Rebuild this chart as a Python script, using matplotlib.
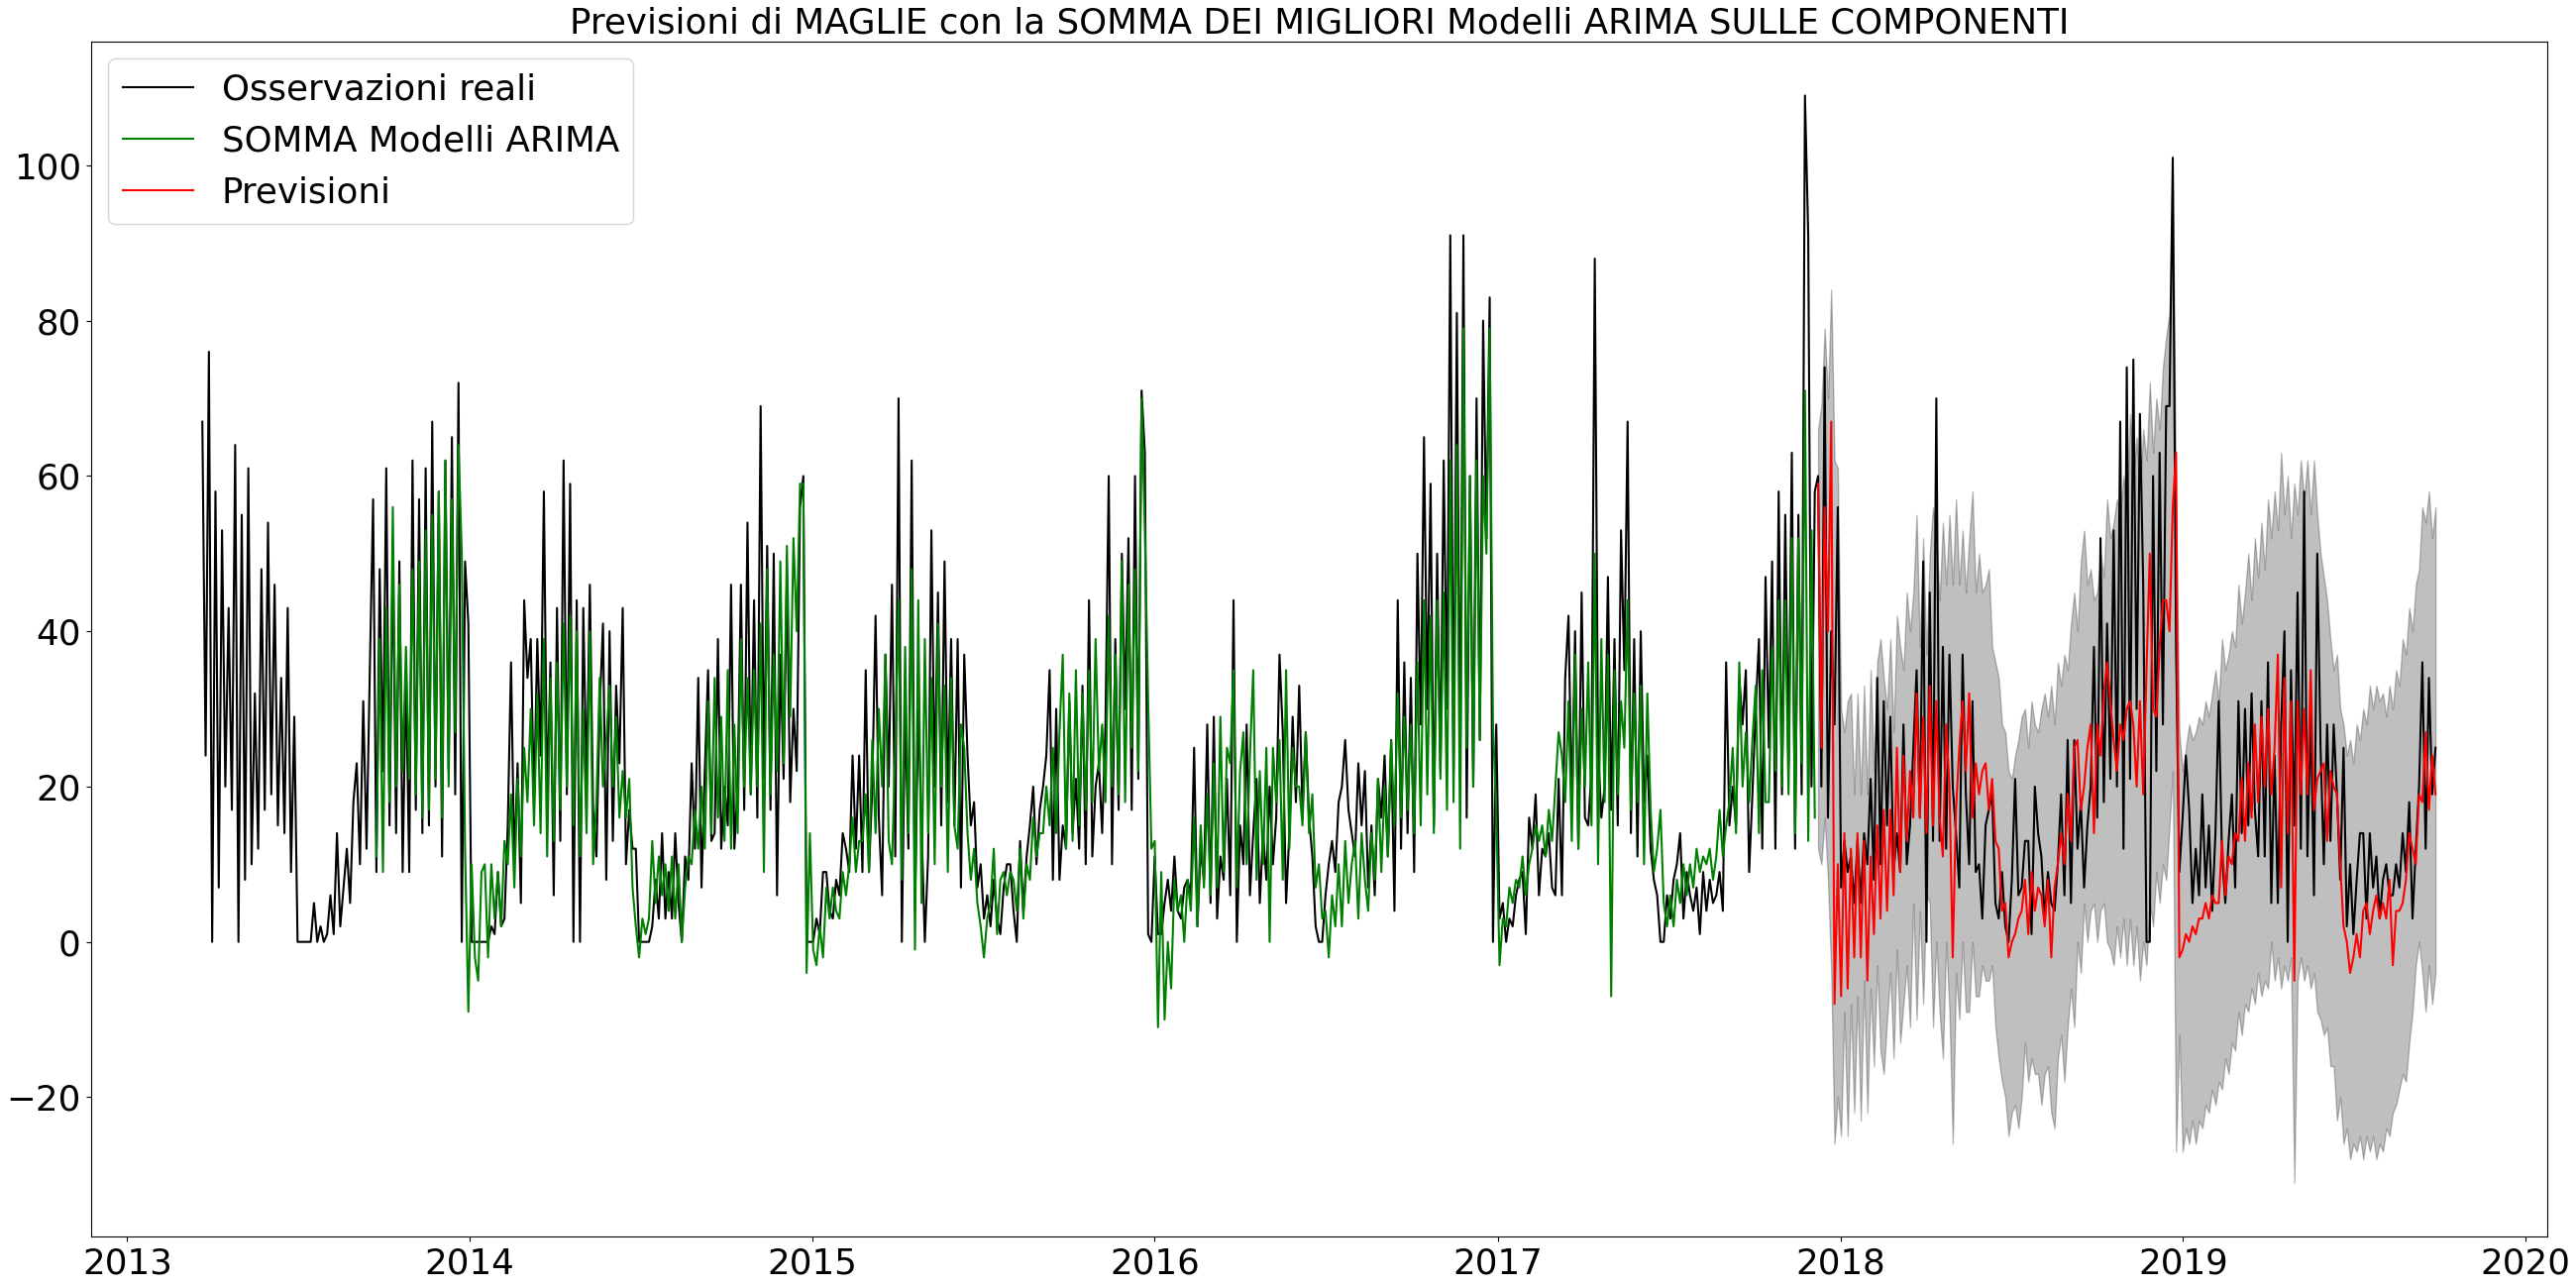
import matplotlib
matplotlib.use("Agg")
import matplotlib.pyplot as plt
import pandas as pd

# half-week samples (every 3.5 days), starting 2013-03-22
obs_p1 = [67, 24, 76, 0, 58, 7, 53, 20, 43, 17,
          64, 0, 55, 8, 61, 10, 32, 12, 48, 17,
          54, 19, 46, 15, 34, 14, 43, 9, 29, 0,
          0, 0, 0, 0, 5, 0, 2, 0, 1, 6,
          1, 14, 2, 7, 12, 5, 18, 23, 10, 31,
          12, 35, 57, 9, 48, 22, 61, 15, 50, 14,
          49, 9, 35, 9, 62, 17, 57, 14, 61, 15,
          67, 20, 58, 11, 62, 22, 65, 19, 72, 0,
          49, 41, 0, 0]
obs_p2 = [0, 0, 0, 0, 2, 1, 9, 2, 3, 15,
          36, 10, 23, 5, 44, 34, 39, 18, 39, 24,
          58, 18, 36, 6, 43, 13, 62, 19, 59, 0,
          44, 0, 43, 20, 46, 17, 11, 30, 41, 8,
          40, 13, 33, 23, 43, 10, 17, 12, 12, 0,
          0, 0, 0, 2, 8, 3, 14, 3, 9, 3,
          14, 5, 0, 11, 8, 23, 12, 34, 7, 22,
          35, 13, 14, 39, 12, 20, 15, 46, 12, 20,
          46, 17, 54]
obs_p3 = [19, 44, 16, 69, 21, 51, 17, 50, 6, 37,
          21, 47, 18, 30, 22, 56, 60, 0, 0, 0,
          3, 1, 9, 9, 4, 3, 8, 6, 14, 12,
          9, 24, 12, 24, 9, 35, 9, 20, 42, 16,
          6, 37, 20, 46, 11, 70, 0, 30, 12, 62,
          4, 30, 15, 0, 11, 53, 20, 45, 15, 49,
          18, 39, 15, 39, 7, 37, 24, 15, 18, 7,
          10, 3, 6, 2, 8, 3, 1, 7, 10, 10,
          4, 0, 13]
obs_p4 = [4, 11, 15, 20, 10, 17, 20, 24, 35, 8,
          30, 8, 15, 12, 31, 14, 21, 12, 33, 10,
          44, 11, 20, 23, 14, 28, 60, 10, 39, 17,
          50, 30, 52, 17, 60, 21, 71, 63, 1, 0,
          11, 1, 1, 5, 8, 4, 11, 4, 3, 7,
          8, 6, 25, 2, 12, 8, 28, 5, 29, 3,
          11, 8, 21, 6, 44, 0, 15, 10, 28, 6,
          14, 21, 5, 14, 8, 20, 10, 16, 37, 27,
          5, 14, 29]
obs_p5 = [18, 33, 17, 27, 16, 11, 2, 0, 0, 6,
          10, 13, 9, 18, 20, 26, 17, 14, 11, 23,
          15, 22, 7, 15, 6, 21, 16, 24, 11, 26,
          4, 44, 12, 36, 14, 34, 9, 50, 28, 65,
          30, 59, 15, 50, 22, 62, 30, 91, 22, 81,
          21, 91, 16, 60, 20, 70, 26, 80, 52, 83,
          0, 28, 3, 5, 0, 3, 2, 6, 8, 9,
          1, 16, 12, 19, 6, 12, 11, 14, 7, 6,
          21, 6, 34]
obs_p6 = [42, 17, 40, 12, 45, 16, 15, 22, 88, 25,
          16, 20, 47, 17, 39, 15, 53, 35, 67, 14,
          39, 11, 40, 18, 24, 12, 8, 6, 0, 0,
          6, 3, 8, 10, 14, 3, 9, 6, 4, 7,
          1, 9, 4, 8, 5, 6, 9, 4, 36, 15,
          20, 15, 34, 28, 35, 9, 19, 30, 39, 12,
          47, 25, 49, 12, 58, 19, 55, 23, 63, 12,
          55, 19, 109, 91, 20, 58, 60, 20, 74, 16,
          40, 28, 56]
obs_p7 = [7, 13, 9, 11, 5, 13, 5, 14, 10, 21,
          8, 34, 10, 31, 15, 29, 9, 14, 9, 28,
          10, 15, 25, 35, 16, 49, 0, 45, 13, 70,
          13, 38, 12, 37, 20, 14, 7, 37, 19, 10,
          31, 9, 10, 3, 15, 17, 19, 5, 3, 9,
          2, 0, 8, 21, 6, 7, 13, 13, 1, 20,
          14, 11, 3, 9, 5, 4, 10, 19, 6, 26,
          5, 26, 12, 18, 7, 15, 20, 38, 16, 52,
          18, 41, 21, 53, 20, 67, 12, 74]
obs_p8 = [21, 75, 30, 68, 46, 0, 0, 60, 22, 63,
          28, 69, 69, 101, 38, 9, 16, 24, 17, 5,
          12, 6, 19, 7, 15, 4, 14, 31, 11, 5,
          13, 19, 7, 31, 14, 30, 15, 32, 17, 11,
          31, 11, 36, 5, 24, 5, 28, 40, 0, 35,
          15, 45, 12, 58, 11, 30, 6, 50, 25, 10,
          28, 13, 28, 19, 8, 25, 2, 10, 1, 8,
          14, 14, 3, 14, 7, 11, 3, 8, 10, 6,
          6, 10, 7, 14, 9, 18, 3, 12, 20, 36,
          12, 34, 19, 25]

# fitted values (SOMMA Modelli ARIMA), from sample 53 onward
fit_p1 = [11, 39, 9, 43, 18, 56, 20, 46, 22, 38,
          21, 48, 19, 49, 16, 53, 17, 55, 21, 58,
          16, 62, 20, 57, 27, 64, 50, 12, -9, 10,
          -2]
fit_p2 = [-5, 9, 10, -2, 10, 3, 9, 2, 13, 10,
          19, 7, 21, 11, 25, 18, 30, 15, 32, 14,
          39, 11, 34, 13, 36, 17, 41, 20, 42, 15,
          40, 11, 30, 14, 40, 10, 18, 34, 20, 26,
          33, 20, 29, 16, 22, 16, 21, 7, 2, -2,
          3, 1, 3, 13, 5, 11, 6, 10, 4, 11,
          3, 10, 0, 7, 11, 10, 17, 12, 20, 12,
          31, 14, 34, 16, 29, 13, 35, 12, 28, 14,
          39, 20, 34]
fit_p3 = [19, 35, 20, 41, 9, 48, 19, 37, 22, 49,
          23, 51, 29, 52, 40, 59, 59, -4, 14, -1,
          -3, 2, -2, 7, 3, 7, 4, 3, 9, 6,
          10, 16, 9, 13, 13, 19, 9, 26, 14, 30,
          20, 37, 13, 10, 25, 44, 8, 38, 14, 48,
          -1, 44, 5, 39, 14, 34, 10, 41, 20, 33,
          9, 34, 15, 12, 28, 25, 14, 8, 12, 5,
          2, -2, 3, 5, 12, 1, 8, 9, 6, 9,
          8, 4, 12]
fit_p4 = [3, 10, 8, 16, 11, 14, 14, 20, 15, 25,
          14, 27, 37, 12, 32, 13, 35, 15, 32, 17,
          35, 18, 39, 22, 28, 18, 42, 20, 37, 19,
          49, 18, 46, 25, 48, 22, 70, 53, 31, 12,
          13, -11, 9, -10, 0, -6, 8, 4, 6, 0,
          8, 4, 16, 2, 15, 7, 19, 6, 23, 7,
          29, 9, 25, 23, 35, 7, 22, 27, 10, 24,
          35, 8, 22, 10, 25, 0, 25, 18, 26, 8,
          35, 12, 25]
fit_p5 = [20, 20, 15, 27, 14, 19, 7, 10, 3, 4,
          -2, 6, 2, 10, 2, 13, 5, 10, 13, 3,
          14, 8, 4, 14, 8, 21, 9, 20, 11, 26,
          15, 32, 16, 29, 17, 28, 14, 36, 15, 44,
          19, 42, 14, 44, 21, 45, 17, 62, 18, 64,
          12, 79, 25, 60, 20, 62, 26, 60, 50, 79,
          28, 17, -3, 3, 2, 7, 5, 8, 7, 11,
          6, 10, 12, 15, 13, 15, 11, 17, 13, 20,
          27, 24, 18]
fit_p6 = [31, 13, 37, 12, 30, 20, 36, 15, 50, 10,
          39, 18, 37, -7, 35, 19, 31, 25, 44, 17,
          32, 18, 33, 10, 32, 17, 9, 12, 17, 5,
          2, 6, 2, 8, 5, 10, 6, 10, 7, 12,
          9, 11, 10, 12, 8, 11, 17, 11, 15, 18,
          25, 14, 36, 20, 27, 18, 26, 33, 14, 35,
          18, 18, 38, 22, 44, 20, 44, 19, 52, 14,
          52, 23, 71, 13, 53, 16]

# forecast and its band, from sample 492 onward
fc_p1 = [59, 25, 56, 40, 67, -8, 10, -7, 14, -6,
         12, -2, 14, -2, 13, -5, 11, 1, 15, 3,
         17, 4, 17, 6, 25, 9, 24, 13, 22, 16,
         32, 16, 29, 14, 33, 15, 31, 16, 11, 28,
         20, -2, 17, 25, 31, 22, 32, 16, 23, 19,
         22, 23, 17, 21, 13, 12, 4, 5, -2, 0,
         1, 3, 4, 8, 1, 9, 4, 7, 6, 2,
         8, -2, 7, 10, 14, 10, 19, 13, 25, 26,
         17, 20, 25, 28, 14, 28, 24, 32, 36, 31,
         26, 22, 28, 26, 30]
fc_p2 = [31, 28, 20, 31, 19, 35, 50, 30, 29, 38,
         44, 44, 40, 56, 63, -2, -1, 1, 0, 2,
         1, 3, 3, 5, 3, 6, 5, 5, 13, 6,
         11, 10, 14, 13, 21, 13, 23, 16, 28, 18,
         29, 20, 30, 19, 25, 37, 7, 34, 14, 31,
         -5, 31, 19, 30, 19, 35, 17, 21, 22, 23,
         13, 22, 20, 19, 10, 2, 0, -4, -2, 1,
         -2, 4, 5, 1, 4, 6, 3, 5, 3, 8,
         -3, 4, 4, 5, 8, 14, 12, 10, 19, 18,
         27, 17, 24, 19]
up_p1 = [66, 69, 79, 70, 84, 62, 61, 30, 27, 31,
         32, 19, 32, 19, 33, 19, 35, 22, 36, 39,
         34, 30, 39, 27, 42, 38, 35, 45, 40, 45,
         55, 38, 52, 37, 50, 56, 52, 44, 54, 46,
         55, 46, 57, 46, 53, 45, 52, 58, 45, 50,
         45, 46, 48, 38, 36, 34, 28, 27, 22, 21,
         24, 26, 29, 30, 25, 31, 28, 27, 30, 32,
         29, 33, 28, 36, 33, 37, 35, 41, 45, 40,
         49, 53, 46, 48, 44, 45, 50, 47, 57, 52,
         54, 57, 55, 60, 55]
up_p2 = [68, 60, 65, 58, 66, 62, 72, 63, 70, 66,
         74, 78, 81, 99, 56, 27, 22, 25, 28, 26,
         27, 29, 28, 31, 29, 32, 35, 31, 39, 35,
         37, 40, 38, 46, 41, 45, 50, 44, 52, 47,
         54, 48, 57, 52, 58, 53, 63, 55, 60, 52,
         59, 55, 62, 57, 62, 55, 62, 55, 50, 47,
         44, 39, 35, 37, 30, 28, 24, 26, 23, 28,
         26, 30, 28, 33, 30, 33, 31, 32, 29, 33,
         30, 35, 33, 39, 37, 43, 40, 46, 48, 56,
         54, 58, 52, 56]
lo_p1 = [12, 10, 16, 8, -4, -26, -20, -25, -9, -25,
         -8, -22, -7, -23, -5, -22, -6, -16, -3, -14,
         -17, -10, -4, -15, -1, -13, -8, -3, -11, 5,
         -10, 4, -8, 6, 5, -11, 0, -9, -15, 0,
         -9, -26, -4, -10, 0, -9, -9, 0, -7, -7,
         -3, -5, -5, -3, -11, -15, -18, -20, -25, -22,
         -21, -24, -20, -13, -18, -15, -17, -17, -21, -17,
         -16, -22, -24, -15, -12, -18, -11, -6, -11, 0,
         -4, 5, 0, 4, 5, 0, 4, 5, 0, -1,
         -3, 2, -2, 3, -3]
lo_p2 = [3, -3, 2, -5, 0, -3, 5, 2, 9, 5,
         10, 8, 15, 22, -27, -12, -27, -24, -26, -23,
         -26, -23, -24, -21, -22, -19, -21, -18, -19, -15,
         -17, -13, -14, -9, -12, -8, -9, -6, -8, -4,
         -7, -5, -6, 0, -5, -2, -6, -3, -5, -2,
         -31, -5, -2, -5, -3, -6, -4, -9, -10, -12,
         -11, -16, -16, -23, -20, -26, -24, -28, -26, -27,
         -25, -28, -25, -27, -25, -28, -26, -27, -24, -25,
         -22, -21, -19, -17, -18, -13, -9, -3, 0, -4,
         -9, -3, -8, -4]

obs = obs_p1 + obs_p2 + obs_p3 + obs_p4 + obs_p5 + obs_p6 + obs_p7 + obs_p8
fit = fit_p1 + fit_p2 + fit_p3 + fit_p4 + fit_p5 + fit_p6
fc = fc_p1 + fc_p2
up = up_p1 + up_p2
lo = lo_p1 + lo_p2

dates = pd.date_range("2013-03-22", periods=len(obs), freq="84h")
fit_dates = dates[53:53 + len(fit)]
fc_dates = dates[492:492 + len(fc)]

fig = plt.figure(figsize=(26, 12.99), dpi=100)
ax = fig.add_axes([0.0352, 0.0389, 0.9536, 0.9291])
ax.plot(dates, obs, color="k", label="Osservazioni reali")
ax.plot(fit_dates, fit, color="g", label="SOMMA Modelli ARIMA")
ax.plot(fc_dates, fc, color="r", label="Previsioni")
ax.fill_between(fc_dates, lo, up, color="k", alpha=0.25)
ax.set_title("Previsioni di MAGLIE con la SOMMA DEI MIGLIORI Modelli ARIMA SULLE COMPONENTI",
             fontsize=25.7)
ax.tick_params(labelsize=25.7)
ax.legend(loc="upper left", fontsize=25.7)

fig.savefig("out.png", dpi=100)
